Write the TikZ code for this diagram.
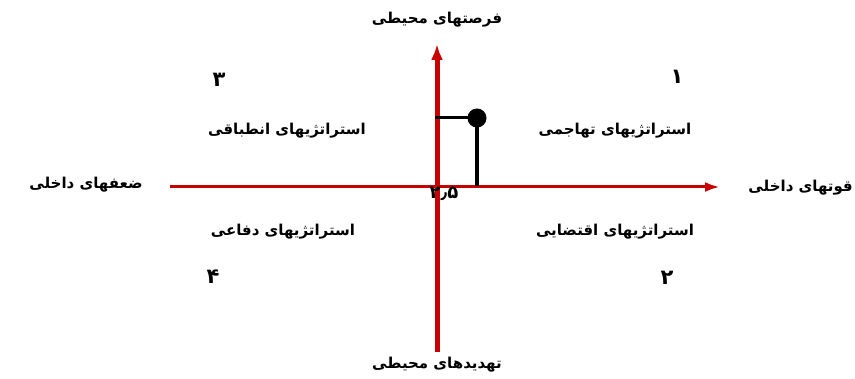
\documentclass[tikz,border=0pt]{standalone}
\usepackage{fontspec}
\usetikzlibrary{arrows.meta}
\newfontfamily\farsi[Script=Arabic]{DejaVu Sans}
\TeXXeTstate=1
\definecolor{axisred}{RGB}{200,0,0}
\newcommand{\fatext}[1]{\beginR #1\endR}
\tikzset{
  axisline/.style={draw=axisred, -{Latex[length=15pt,width=10pt]}},
  falabel/.style={font=\farsi\bfseries\fontsize{15}{17}\selectfont, inner sep=0pt},
  quadnum/.style={font=\farsi\bfseries\fontsize{21}{23}\selectfont, inner sep=0pt},
}
\begin{document}
\begin{tikzpicture}[x=1pt, y=-1pt]
  \useasboundingbox[fill=white] (0,0) rectangle (855,379);
  % axes
  \coordinate (west) at (170,187);
  \coordinate (east) at (720,187);
  \coordinate (south) at (437,352);
  \coordinate (north) at (437,44);
  \draw[axisline, line width=3pt] (west) -- (east);
  \draw[axisline, line width=5pt, -{Latex[length=16pt,width=12pt]}] (south) -- (north);

  % axis labels
  \node[falabel] (opport) at (437,20) {\fatext{فرصتهای محیطی}};
  \node[falabel] (threat) at (437,365) {\fatext{تهدیدهای محیطی}};
  \node[falabel] (weak) at (86,185) {\fatext{ضعفهای داخلی}};
  \node[falabel, anchor=east] (strong) at (853,188) {\fatext{قوتهای داخلی}};

  % strategies
  \node[falabel] (adapt) at (287,131) {\fatext{استراتژیهای انطباقی}};
  \node[falabel] (attack) at (615,131) {\fatext{استراتژیهای تهاجمی}};
  \node[falabel] (defend) at (283,232) {\fatext{استراتژیهای دفاعی}};
  \node[falabel] (conting) at (615,232) {\fatext{استراتژیهای اقتضایی}};

  % quadrant numbers
  \node[quadnum] (q3) at (219,80) {۳};
  \node[quadnum] (q1) at (677,77) {۱};
  \node[quadnum] (q4) at (213,277) {۴};
  \node[quadnum] (q2) at (667,278) {۲};

  % position of the organisation
  \node[circle, fill=black, inner sep=0pt, minimum size=19pt] (point) at (477,118) {};
  \coordinate (pointx) at (477,186);
  \coordinate (pointy) at (435,118);
  \draw[line width=4.5pt] (point.center) -- (pointx);
  \draw[line width=3pt] (point.center) -- (pointy);
  \node[falabel, font=\farsi\bfseries\fontsize{18}{20}\selectfont] (centre) at (444,194) {۲٫۵};
\end{tikzpicture}
\end{document}
